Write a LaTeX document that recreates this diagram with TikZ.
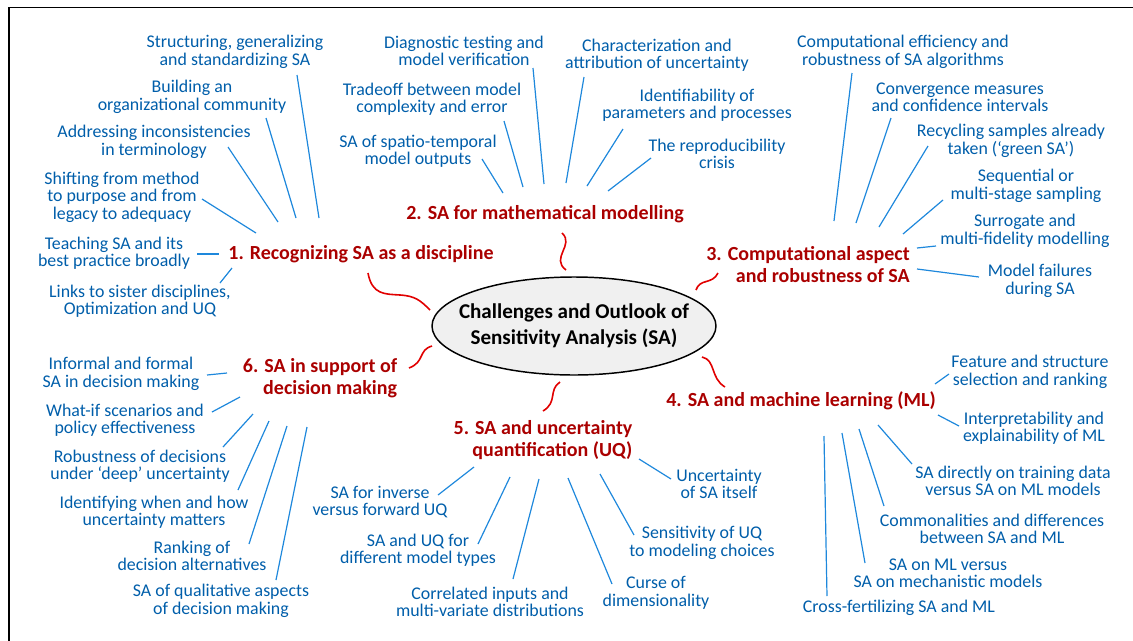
\documentclass[tikz,border=0pt]{standalone}
\usepackage{fontspec}
\setmainfont{Carlito}
\usepackage{tikz}
\usetikzlibrary{positioning,shapes.geometric}

\definecolor{itemblue}{RGB}{0,94,170}
\definecolor{twigblue}{RGB}{30,136,220}
\definecolor{headred}{RGB}{170,0,0}
\definecolor{wavered}{RGB}{225,0,0}
\definecolor{hubgray}{RGB}{240,240,240}

\tikzset{
	item/.style={align=center, text=itemblue, inner sep=1pt,
		font=\fontsize{13.4}{13.1}\selectfont},
	head/.style={align=right, text=headred, inner sep=1pt,
		font=\fontsize{15}{16.5}\selectfont\bfseries},
	hub/.style={ellipse, draw, line width=1.1pt, fill=hubgray, inner xsep=-11pt, inner ysep=0pt,
		minimum width=213pt, minimum height=73.5pt, align=center,
		font=\fontsize{15.8}{19.5}\selectfont\bfseries},
	twig/.style={twigblue, line width=0.9pt},
	wave/.style={wavered, line width=1.2pt}
}

\begin{document}
\begin{tikzpicture}[x=0.75pt, y=-0.75pt]
			\useasboundingbox (0,0) rectangle (1133,640);
			\draw[line width=1.1pt] (9,7.5) rectangle (1150,660);

			% hub and the six themes
			\node[hub] (ctr) at (574,326) {Challenges and Outlook of\\Sensitivity Analysis (SA)};
			\node[head] (h1) at (361,254) {1. Recognizing SA as a discipline};
			\node[head] (h2) at (545,214) {2. SA for mathematical modelling};
			\node[head] (h3) at (808,265) {3. Computational aspect\\and robustness of SA};
			\node[head] (h4) at (801,401) {4. SA and machine learning (ML)};
			\node[head] (h5) at (543,440) {5. SA and uncertainty\\quantification (UQ)};
			\node[head] (h6) at (320,378) {6. SA in support of\\decision making};

			\draw[wave] ([shift={(7,19)}]h1.center) .. controls +(4,22) and +(-15,-1) .. ++(32,22)
				.. controls +(15,1) and +(-10,-10) .. ([shift={(-144,-16)}]ctr.center);
			\draw[wave] ([shift={(17,19)}]h2.center) .. controls +(13,12) and +(-16,-12) .. ([shift={(-8,-56)}]ctr.center);
			\draw[wave] ([shift={(-90,8)}]h3.center) .. controls +(-6,12) and +(4,-12) .. ([shift={(122,-36)}]ctr.center);
			\draw[wave] ([shift={(128,31)}]ctr.center) .. controls +(14,3) and +(-15,-9) .. ([shift={(-76,-14)}]h4.center);
			\draw[wave] ([shift={(-14,56)}]ctr.center) .. controls +(-12,8) and +(15,-9) .. ([shift={(0,-29)}]h5.center);
			\draw[wave] ([shift={(-142,20)}]ctr.center) .. controls +(-14,4) and +(16,-6) .. ([shift={(89,-10)}]h6.center);

			% 1. discipline
			\node[item] (a1) at (235,52) {Structuring, generalizing\\and standardizing SA};
			\node[item] (a2) at (192,97) {Building an\\organizational community};
			\node[item] (a3) at (154,142) {Addressing inconsistencies\\in terminology};
			\node[item] (a4) at (122,197) {Shifting from method\\to purpose and from\\legacy to adequacy};
			\node[item] (a5) at (114,253) {Teaching SA and its\\best practice broadly};
			\node[item] (a6) at (140,301) {Links to sister disciplines,\\Optimization and UQ};
			\draw[twig] ([shift={(62,23)}]a1.center) -- ([shift={(-42,-36)}]h1.center);
			\draw[twig] ([shift={(74,21)}]a2.center) -- ([shift={(-65,-36)}]h1.center);
			\draw[twig] ([shift={(74,5)}]a3.center) -- ([shift={(-83,-32)}]h1.center);
			\draw[twig] ([shift={(80,2)}]a4.center) -- ([shift={(-105,-21)}]h1.center);
			\draw[twig] ([shift={(83,1)}]a5.center) -- ([shift={(-142,0)}]h1.center);
			\draw[twig] ([shift={(80,-18)}]a6.center) -- ([shift={(-129,14)}]h1.center);

			% 2. modelling
			\node[item] (b1) at (464,51) {Diagnostic testing and\\model verification};
			\node[item] (b2) at (432,99) {Tradeoff between model\\complexity and error};
			\node[item] (b3) at (418,151) {SA of spatio-temporal\\model outputs};
			\node[item] (b4) at (657,55) {Characterization and\\attribution of uncertainty};
			\node[item] (b5) at (697,105) {Identifiability of\\parameters and processes};
			\node[item] (b6) at (717,154) {The reproducibility\\crisis};
			\draw[twig] ([shift={(69,17)}]b1.center) -- ([shift={(-1,-30)}]h2.center);
			\draw[twig] ([shift={(72,22)}]b2.center) -- ([shift={(-22,-27)}]h2.center);
			\draw[twig] ([shift={(64,8)}]b3.center) -- ([shift={(-42,-21)}]h2.center);
			\draw[twig] ([shift={(-73,22)}]b4.center) -- ([shift={(21,-31)}]h2.center);
			\draw[twig] ([shift={(-74,24)}]b5.center) -- ([shift={(42,-28)}]h2.center);
			\draw[twig] ([shift={(-66,4)}]b6.center) -- ([shift={(63,-23)}]h2.center);

			% 3. computation
			\node[item] (c1) at (903,52) {Computational efficiency and\\robustness of SA algorithms};
			\node[item] (c2) at (960,97) {Convergence measures\\and confidence intervals};
			\node[item] (c3) at (1011,141) {Recycling samples already\\taken (‘green SA’)};
			\node[item] (c4) at (1026,186) {Sequential or\\multi-stage sampling};
			\node[item] (c5) at (1025,231) {Surrogate and\\multi-fidelity modelling};
			\node[item] (c6) at (1040,281) {Model failures\\during SA};
			\draw[twig] ([shift={(-51,21)}]c1.center) -- ([shift={(26,-44)}]h3.center);
			\draw[twig] ([shift={(-69,21)}]c2.center) -- ([shift={(48,-42)}]h3.center);
			\draw[twig] ([shift={(-83,5)}]c3.center) -- ([shift={(71,-38)}]h3.center);
			\draw[twig] ([shift={(-83,14)}]c4.center) -- ([shift={(95,-31)}]h3.center);
			\draw[twig] ([shift={(-89,15)}]c5.center) -- ([shift={(109,-17)}]h3.center);
			\draw[twig] ([shift={(-61,-4)}]c6.center) -- ([shift={(109,4)}]h3.center);

			% 4. machine learning
			\node[item] (d1) at (1030,372) {Feature and structure\\selection and ranking};
			\node[item] (d2) at (1034,428) {Interpretability and\\explainability of ML};
			\node[item] (d3) at (1013,481) {SA directly on training data\\versus SA on ML models};
			\node[item] (d4) at (992,529) {Commonalities and differences\\between SA and ML};
			\node[item] (d5) at (948,573) {SA on ML versus\\SA on mechanistic models};
			\node[item] (d6) at (899,608) {Cross-fertilizing SA and ML};
			\draw[twig] ([shift={(-81,2)}]d1.center) -- ([shift={(134,-17)}]h4.center);
			\draw[twig] ([shift={(-75,-2)}]d2.center) -- ([shift={(137,14)}]h4.center);
			\draw[twig] ([shift={(-101,-17)}]d3.center) -- ([shift={(77,24)}]h4.center);
			\draw[twig] ([shift={(-108,-23)}]d4.center) -- ([shift={(58,28)}]h4.center);
			\draw[twig] ([shift={(-83,-10)}]d5.center) -- ([shift={(41,32)}]h4.center);
			\draw[twig] ([shift={(-72,-12)}]d6.center) -- ([shift={(23,35)}]h4.center);

			% 5. uncertainty quantification
			\node[item] (e1) at (719,484) {Uncertainty\\of SA itself};
			\node[item] (e2) at (380,502) {SA for inverse\\versus forward UQ};
			\node[item] (e3) at (418,550) {SA and UQ for\\different model types};
			\node[item] (e4) at (490,602) {Correlated inputs and\\multi-variate distributions};
			\node[item] (e5) at (656,593) {Curse of\\dimensionality};
			\node[item] (e6) at (702,543) {Sensitivity of UQ\\to modeling choices};
			\draw[twig] ([shift={(-48,-5)}]e1.center) -- ([shift={(96,19)}]h5.center);
			\draw[twig] ([shift={(58,-7)}]e2.center) -- ([shift={(-69,27)}]h5.center);
			\draw[twig] ([shift={(60,-6)}]e3.center) -- ([shift={(-33,37)}]h5.center);
			\draw[twig] ([shift={(23,-23)}]e4.center) -- ([shift={(-4,39)}]h5.center);
			\draw[twig] ([shift={(-44,-9)}]e5.center) -- ([shift={(25,38)}]h5.center);
			\draw[twig] ([shift={(-68,-8)}]e6.center) -- ([shift={(57,34)}]h5.center);

			% 6. decision making
			\node[item] (f1) at (121,374) {Informal and formal\\SA in decision making};
			\node[item] (f2) at (125,420) {What-if scenarios and\\policy effectiveness};
			\node[item] (f3) at (140,466) {Robustness of decisions\\under ‘deep’ uncertainty};
			\node[item] (f4) at (154,512) {Identifying when and how\\uncertainty matters};
			\node[item] (f5) at (192,556) {Ranking of\\decision alternatives};
			\node[item] (f6) at (221,601) {SA of qualitative aspects\\of decision making};
			\draw[twig] ([shift={(86,1)}]f1.center) -- ([shift={(-93,-5)}]h6.center);
			\draw[twig] ([shift={(87,-8)}]f2.center) -- ([shift={(-80,19)}]h6.center);
			\draw[twig] ([shift={(83,-19)}]f3.center) -- ([shift={(-67,36)}]h6.center);
			\draw[twig] ([shift={(84,-22)}]f4.center) -- ([shift={(-51,43)}]h6.center);
			\draw[twig] ([shift={(57,-12)}]f5.center) -- ([shift={(-33,48)}]h6.center);
			\draw[twig] ([shift={(55,-21)}]f6.center) -- ([shift={(-13,49)}]h6.center);
		\end{tikzpicture}
\end{document}
